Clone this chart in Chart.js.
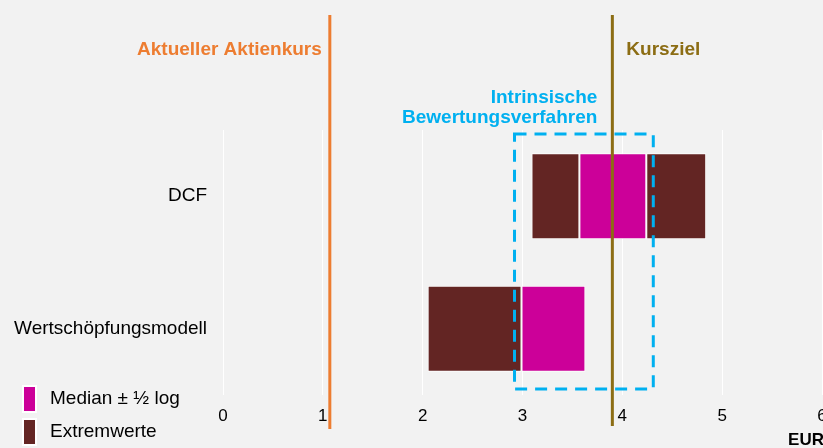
<!DOCTYPE html>
<html>
<head>
<meta charset="utf-8">
<script src="https://cdn.jsdelivr.net/npm/chart.js@4.4.1/dist/chart.umd.min.js"></script>
<style>
  html, body { margin: 0; padding: 0; background: #f2f2f2; }
</style>
</head>
<body>
<canvas id="chart" width="823" height="448"></canvas>
<script>
// data (EUR)
const categories = ['DCF', 'Wertschöpfungsmodell'];
const extremLow = [[3.09, 3.57], [2.05, 2.99]];
const medianBand = [[3.57, 4.24], [2.99, 3.63]];
const extremHigh = [[4.24, 4.84], null];
const xTickValues = [0, 1, 2, 3, 4, 5, 6];
const aktienkurs = 1.07;
const kursziel = 3.90;
const intrinsicX = [2.92, 4.31];
const intrinsicY = [-0.47, 1.455];

const DARK = '#632523';
const MAGENTA = '#cc0099';
const ORANGE = '#ed7d31';
const OLIVE = '#8c6d14';
const BLUE = '#00b0f0';
const FONT = '"Liberation Sans", Arial, sans-serif';

const overlay = {
  id: 'overlay',
  afterDatasetsDraw(chart) {
    const ctx = chart.ctx;
    const x = chart.scales.x;
    const y = chart.scales.y;
    ctx.save();

    // x tick labels
    ctx.fillStyle = '#000';
    ctx.font = '17px ' + FONT;
    ctx.textAlign = 'center';
    ctx.textBaseline = 'middle';
    xTickValues.forEach(v => ctx.fillText(String(v), x.getPixelForValue(v), 416));

    ctx.font = 'bold 17px ' + FONT;
    ctx.textAlign = 'right';
    ctx.fillText('EUR', 824, 440);

    // dashed box for intrinsic methods
    const bx0 = x.getPixelForValue(intrinsicX[0]);
    const bx1 = x.getPixelForValue(intrinsicX[1]);
    const by0 = y.getPixelForValue(intrinsicY[0]);
    const by1 = y.getPixelForValue(intrinsicY[1]);
    ctx.strokeStyle = BLUE;
    ctx.lineWidth = 3;
    ctx.setLineDash([12, 8]);
    ctx.strokeRect(bx0, by0, bx1 - bx0, by1 - by0);
    ctx.setLineDash([]);

    // current price line
    const ax = x.getPixelForValue(aktienkurs);
    ctx.strokeStyle = ORANGE;
    ctx.lineWidth = 3;
    ctx.beginPath();
    ctx.moveTo(ax, 15);
    ctx.lineTo(ax, 429);
    ctx.stroke();

    // target price line
    const kx = x.getPixelForValue(kursziel);
    ctx.strokeStyle = OLIVE;
    ctx.beginPath();
    ctx.moveTo(kx, 15);
    ctx.lineTo(kx, 426);
    ctx.stroke();

    ctx.font = 'bold 19px ' + FONT;
    ctx.textBaseline = 'middle';
    ctx.fillStyle = ORANGE;
    ctx.textAlign = 'right';
    ctx.fillText('Aktueller Aktienkurs', ax - 8, 50);
    ctx.fillStyle = OLIVE;
    ctx.textAlign = 'left';
    ctx.fillText('Kursziel', kx + 14, 50);
    ctx.fillStyle = BLUE;
    ctx.textAlign = 'right';
    ctx.fillText('Intrinsische', kx - 15, 98);
    ctx.fillText('Bewertungsverfahren', kx - 15, 118);

    // legend
    const legend = [[MAGENTA, 'Median ± ½ log', 399], [DARK, 'Extremwerte', 432]];
    ctx.font = '19px ' + FONT;
    legend.forEach(([c, t, ly]) => {
      ctx.fillStyle = '#fff';
      ctx.fillRect(22, ly - 14, 15, 28);
      ctx.fillStyle = c;
      ctx.fillRect(24, ly - 12, 11, 24);
      ctx.fillStyle = '#000';
      ctx.textAlign = 'left';
      ctx.fillText(t, 50, ly);
    });
    ctx.restore();
  }
};

const barStyle = { borderColor: '#fff', borderWidth: 1, borderSkipped: false, grouped: false,
  barPercentage: 0.65, categoryPercentage: 1 };

new Chart(document.getElementById('chart'), {
  type: 'bar',
  data: {
    labels: categories,
    datasets: [
      Object.assign({ label: 'Extremwerte', data: extremLow, backgroundColor: DARK }, barStyle),
      Object.assign({ label: 'Median ± ½ log', data: medianBand, backgroundColor: MAGENTA }, barStyle),
      Object.assign({ label: 'Extremwerte', data: extremHigh, backgroundColor: DARK }, barStyle)
    ]
  },
  options: {
    indexAxis: 'y',
    responsive: false,
    animation: false,
    layout: { padding: { top: 130, right: 1, left: 0, bottom: 0 } },
    plugins: { legend: { display: false }, tooltip: { enabled: false } },
    scales: {
      x: {
        min: 0, max: 6,
        ticks: { display: false, stepSize: 1 },
        grid: { color: '#ffffff', lineWidth: 1, drawTicks: false },
        border: { display: false },
        afterFit(s) { s.height = 53; }
      },
      y: {
        grid: { display: false, drawTicks: false },
        border: { display: false },
        ticks: { color: '#000', font: { family: FONT, size: 19 }, padding: 16 },
        afterFit(s) { s.width = 223; }
      }
    }
  },
  plugins: [overlay]
});
</script>
</body>
</html>
